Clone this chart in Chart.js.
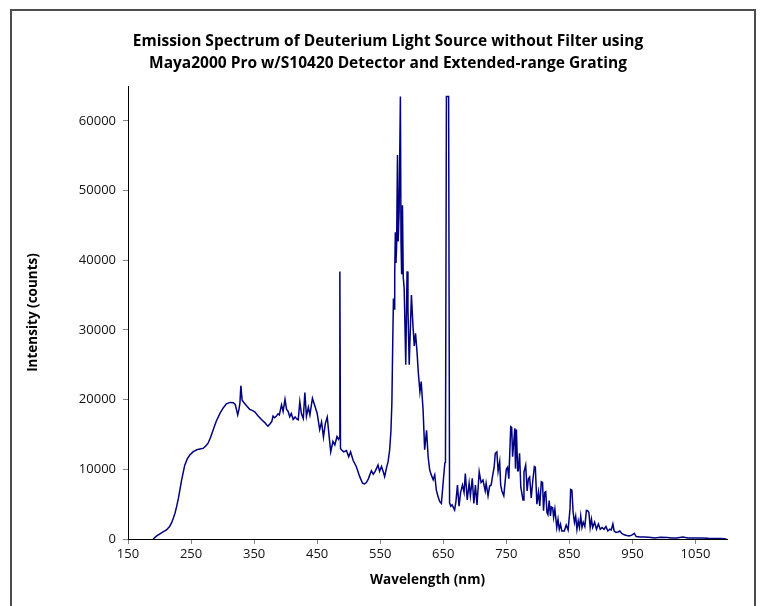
<!DOCTYPE html>
<html>
<head>
<meta charset="utf-8">
<script src="https://cdn.jsdelivr.net/npm/chart.js@4/dist/chart.umd.min.js"></script>
<style>
    html, body { margin: 0; padding: 0; background: #fff; overflow: hidden; }
    #wrap { position: relative; width: 761px; height: 606px; }
    #frame { position: absolute; left: 10px; top: 9px; width: 742px; height: 700px; border: 2px solid #4d4d4d; pointer-events: none; }
</style>
</head>
<body>
<div id="wrap">
    <canvas id="spectrumChart"></canvas>
    <div id="frame"></div>
</div>
<script>
// tick positions
const xTicks = [150, 250, 350, 450, 550, 650, 750, 850, 950, 1050];
const yTicks = [0, 10000, 20000, 30000, 40000, 50000, 60000];

// wavelength (nm) and intensity (counts)
const wavelength = [
    190, 195, 200, 205, 211, 216, 219, 222, 224.5, 227, 230, 235, 240, 244, 248, 253, 259, 264, 269, 273,
    277, 281, 285, 290, 296, 301, 306, 312, 317, 320, 322, 324, 326, 327.5, 329, 331, 335, 339, 343, 347,
    351, 356, 362, 367, 370, 372, 375, 378, 380, 382.5, 385, 388, 390, 393.5, 396, 399, 401.5, 404, 406.5, 409,
    412, 415, 418, 420, 422.5, 425, 428, 430.5, 433, 436, 438.5, 442.5, 446, 450, 454, 457, 460, 463, 466, 468.5,
    471.5, 475, 478, 481.5, 484, 485, 486, 487, 488.5, 492, 496.5, 500, 503, 507, 512, 517.5, 522, 525, 528, 531,
    533.5, 536, 539, 542, 546.5, 549, 552, 555, 557, 560, 562.5, 565, 567, 568.5, 570, 571, 572, 573, 574, 575,
    576, 577.4, 578.5, 580, 582, 583, 584, 585.3, 586.5, 588, 590.5, 592.6, 594, 596, 599.5, 602, 604, 606, 608.5, 610.5,
    613, 615, 618, 620.5, 623.5, 626, 628.5, 631, 634, 636.5, 639, 642, 644.5, 647, 649.5, 652.5, 653.5, 655, 658.5, 660,
    662, 664, 668, 670, 672.5, 675, 677.5, 680.5, 683, 685, 688, 691, 693, 696, 698.5, 701, 703.5, 707, 710, 713,
    716.5, 718, 721, 723.5, 726, 728.5, 730.7, 732.5, 735, 737, 739.5, 741, 743, 746, 750, 752, 754, 757, 758.5, 760,
    763.5, 764.5, 766, 768, 769, 771, 773, 776.5, 778, 780.7, 783, 785, 787, 789.5, 792, 794.5, 796, 798.5, 801, 803,
    805.5, 807.5, 809, 811, 812.5, 814.5, 816, 818, 820, 821.5, 823.5, 825, 827, 830, 832, 834, 836, 838, 842, 845,
    848, 851, 852, 854, 856, 858, 860, 862, 864, 866, 868, 870, 872, 874.5, 877, 879, 881, 883, 885, 887,
    890, 893, 896, 899, 902, 905, 908, 911, 914, 916.5, 919, 921, 924, 927, 930, 933, 937, 941, 945, 949,
    953, 956, 962, 970, 980, 985, 995, 1005, 1012, 1020, 1030, 1038, 1050, 1060, 1070, 1080, 1090, 1099
];
const intensity = [
    0, 400, 700, 1000, 1300, 1800, 2300, 3000, 3700, 4600, 5850, 8450, 10600, 11500, 12050, 12500, 12800, 12900, 13000, 13300,
    13750, 14600, 15650, 16900, 18050, 18800, 19400, 19600, 19550, 19300, 18600, 17800, 18600, 19500, 22000, 19900, 19450, 19000, 18600, 18450,
    18250, 17700, 17100, 16700, 16350, 16200, 16500, 16850, 17650, 17400, 17600, 17950, 17800, 19250, 18300, 20050, 18600, 18300, 17550, 18000,
    17150, 17500, 17200, 17100, 19700, 18000, 17300, 21000, 17600, 18900, 17800, 20200, 19200, 18050, 15700, 16800, 14600, 16600, 17500, 15200,
    12500, 14000, 13500, 14700, 14300, 14500, 38400, 13000, 12800, 12500, 12700, 11800, 12500, 11300, 10400, 8950, 8000, 7900, 8100, 8600,
    9200, 9800, 9300, 9700, 10600, 9700, 10400, 9600, 8950, 10200, 11100, 12800, 15500, 19500, 29000, 34500, 33000, 38000, 44000, 39600,
    42000, 55100, 42700, 47000, 63500, 42700, 38000, 47900, 37600, 36000, 25000, 38400, 33000, 25000, 35000, 30500, 27700, 29500, 26700, 23800,
    21100, 22600, 18500, 12800, 15600, 11800, 9900, 9200, 8500, 9200, 7000, 6000, 5350, 5100, 7750, 10900, 11000, 63500, 63500, 5200,
    4700, 4900, 4150, 5300, 7750, 4700, 6700, 7750, 6700, 9400, 5600, 8000, 6200, 8700, 5100, 7750, 4900, 9650, 8100, 8450,
    6900, 8000, 6200, 7600, 7750, 9200, 10300, 12300, 12500, 9700, 11100, 7750, 6900, 6200, 10000, 10300, 8650, 16100, 16000, 11800,
    15900, 10100, 15700, 9800, 9800, 12300, 7400, 5600, 9600, 10600, 6900, 8650, 8900, 5900, 8400, 10400, 10300, 5000, 6700, 4750,
    8200, 8100, 4050, 6700, 6800, 3800, 3500, 5500, 3300, 4600, 4500, 3100, 4300, 1650, 2850, 1400, 2100, 1150, 1150, 2000,
    1300, 4300, 7100, 7000, 3800, 2400, 3300, 1400, 2600, 1650, 3300, 1650, 2400, 1800, 4100, 4050, 3800, 1650, 2850, 1650,
    2400, 1400, 2150, 1400, 1650, 1400, 1800, 1150, 1400, 1300, 2150, 1150, 950, 1000, 1150, 800, 600, 500, 450, 550,
    800, 350, 300, 300, 200, 150, 250, 220, 130, 150, 300, 130, 130, 150, 100, 80, 60, 0
];

const tickFont = { family: "'Open Sans', sans-serif", size: 13 };
const titleFont = { family: "'Open Sans', sans-serif", size: 13.5, weight: 'bold' };

function renderChart() {
    const points = wavelength.map((w, i) => ({ x: w, y: intensity[i] }));
    const ctx = document.getElementById('spectrumChart').getContext('2d');

    new Chart(ctx, {
        type: 'line',
        data: {
            datasets: [{
                data: points,
                borderColor: '#000080',
                borderWidth: 1.5,
                pointRadius: 0,
                tension: 0,
                fill: false
            }]
        },
        options: {
            responsive: true,
            maintainAspectRatio: false,
            animation: false,
            layout: { padding: { left: 49, right: 34, top: 0, bottom: 0 } },
            plugins: {
                legend: { display: false },
                tooltip: { enabled: false },
                title: {
                    display: true,
                    text: [
                        'Emission Spectrum of Deuterium Light Source without Filter using',
                        'Maya2000 Pro w/S10420 Detector and Extended-range Grating'
                    ],
                    color: '#000',
                    font: { family: "'Open Sans', sans-serif", size: 15.5, weight: 'bold', lineHeight: 22 / 15.5 },
                    padding: { top: 31, bottom: 11 }
                }
            },
            scales: {
                x: {
                    type: 'linear',
                    min: 150,
                    max: 1100,
                    afterBuildTicks: scale => { scale.ticks = xTicks.map(v => ({ value: v })); },
                    afterFit: scale => { scale.height = 67; },
                    grid: { drawOnChartArea: false, tickLength: 5, color: '#868686' },
                    border: { color: '#000', width: 1 },
                    ticks: { color: '#111', font: tickFont, padding: 2, maxRotation: 0, autoSkip: false, callback: v => String(v) },
                    title: { display: true, text: 'Wavelength (nm)', color: '#000', font: titleFont, padding: { top: 4, bottom: 17.6 } }
                },
                y: {
                    min: 0,
                    max: 65000,
                    afterBuildTicks: scale => { scale.ticks = yTicks.map(v => ({ value: v })); },
                    afterFit: scale => { scale.width = 79; },
                    grid: { drawOnChartArea: false, tickLength: 5, color: '#868686' },
                    border: { color: '#000', width: 1 },
                    ticks: { color: '#111', font: tickFont, padding: 7, callback: v => String(v) },
                    title: { display: true, text: 'Intensity (counts)', color: '#000', font: titleFont, padding: { top: -24, bottom: 4 } }
                }
            }
        }
    });
}

renderChart();
</script>
</body>
</html>
